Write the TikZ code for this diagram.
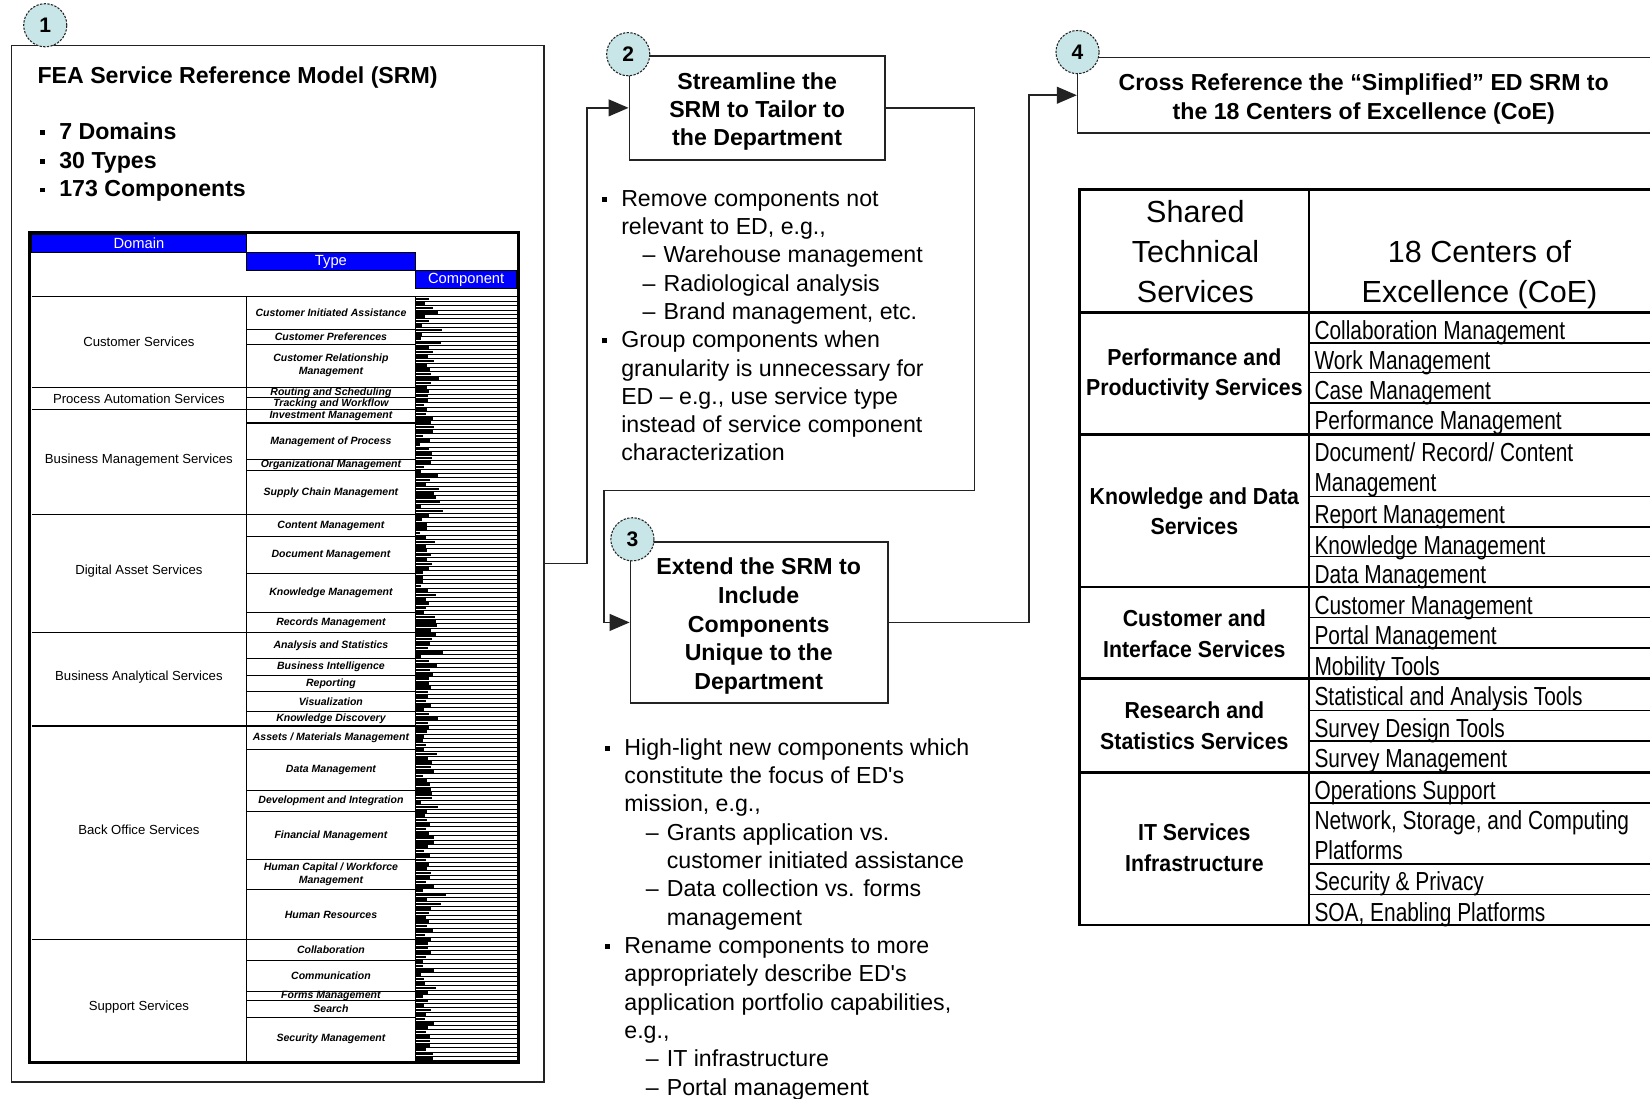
\documentclass[tikz,border=0pt]{standalone}
\usepackage{fontspec}
\setmainfont{Liberation Sans}[Ligatures=TeXOff]
\newfontfamily\cellfont{Liberation Sans}[FakeStretch=0.80,Ligatures=TeXOff]
\newfontfamily\groupfont{Liberation Sans}[FakeStretch=0.92,Ligatures=TeXOff]
\usetikzlibrary{arrows.meta}

\definecolor{numfill}{RGB}{200,230,231}
\definecolor{framegray}{RGB}{35,35,35}
\definecolor{barblue}{RGB}{0,0,255}

\newcommand\fsz[2]{\fontsize{#1}{#2}\selectfont}
\newcommand\sqb{\rule[4.2pt]{4.6pt}{4.6pt}}
\newcommand\bitem[1]{\hbox{\sqb\hskip 13.6pt #1}}
\newcommand\bcont[1]{\hbox{\hskip 18.2pt #1}}
\newcommand\ditem[1]{\hbox{\hskip 38.5pt\hbox to 20pt{–\hss}#1}}
\newcommand\dcont[1]{\hbox{\hskip 58.5pt #1}}
\newcommand\clines[1]{\vtop{\lineskiplimit=-100pt\halign{\hfil##\hfil\cr#1\crcr}}}
\newcommand\llines[1]{\vtop{\lineskiplimit=-100pt\halign{##\hfil\cr#1\crcr}}}

\begin{document}
\begin{tikzpicture}[x=1pt,y=-1pt,
  stepbox/.style={draw=framegray, line width=1.4pt, fill=white, inner sep=0pt},
  stepnum/.style={circle, draw=framegray, line width=1pt, dash pattern=on 2.2pt off 1.3pt,
    fill=numfill, minimum size=41pt, inner sep=0pt, font=\bfseries\fsz{20}{20}},
  link/.style={draw=framegray, line width=1.5pt, -{Triangle[length=19pt,width=16pt]}},
  headtitle/.style={inner sep=0pt, font=\bfseries\fsz{22}{27.2}},
  bodytext/.style={anchor=base west, inner sep=0pt},
  hdrlabel/.style={inner sep=0pt, text=white, font=\fsz{14}{14}},
  domlabel/.style={inner sep=0pt, font=\fsz{12.5}{14}},
  typelabel/.style={inner sep=0pt, font=\bfseries\itshape\fsz{10}{12.5}},
  celltext/.style={anchor=base west, inner sep=0pt, font=\cellfont\fsz{24.8}{28.6}},
  grouptext/.style={anchor=base, inner sep=0pt, font=\groupfont\bfseries\fsz{22}{29.3}},
  colhead/.style={anchor=base, inner sep=0pt, font=\fsz{29}{38}},
]
\useasboundingbox (0,0) rectangle (1568,1044);
\clip (0,0) rectangle (1568,1044);
\fill[white] (0,0) rectangle (1568,1044);

% ---------- step boxes ----------
\node[stepbox, minimum width=506pt, minimum height=985pt] (b1) at (264,535.5) {};
\node[stepbox, minimum width=243pt, minimum height=99pt] (b2) at (719.5,102.5) {};
\node[stepbox, minimum width=245pt, minimum height=153pt] (b3) at (721.5,591.5) {};
\node[stepbox, minimum width=676pt, minimum height=72pt] (b4) at (1362,90.5) {};

% ---------- step 1: the FEA SRM ----------
\node[headtitle, anchor=base west] (t1) at (35.5,79.2) {FEA Service Reference Model (SRM)};
\node[headtitle, anchor=base west, font=\bfseries\fsz{22}{27.3}] (l1) at (38,132.4)
  {\vtop{\bitem{7 Domains}\bitem{30 Types}\bitem{173 Components}}};

% SRM table header
\draw[fill=barblue, line width=0.8pt] (30,222.5) rectangle (234,240);
\draw[fill=barblue, line width=0.8pt] (234,240) rectangle (395,257);
\draw[fill=barblue, line width=0.8pt] (395,257) rectangle (491,274);
\node[hdrlabel] (hd) at (132,231.5) {Domain};
\node[hdrlabel] (ht) at (314.5,248.5) {Type};
\node[hdrlabel] (hc) at (443,265.5) {Component};
\draw[line width=1.3pt] (30,282) -- (491,282);

% component column: one line per service component
\pgfmathsetseed{4711}
\foreach \i in {0,...,172}{
  \pgfmathsetmacro\yy{282+\i*4.1965}
  \pgfmathsetmacro\ll{4+20*rnd*rnd+7*rnd}
  \fill (395,\yy+0.9) rectangle ++(\ll,2.5);
  \draw[line width=0.7pt] (395,\yy+4.1965) -- (491,\yy+4.1965);
}

% column dividers
\draw[line width=1.3pt] (234,282) -- (234,1008);
\draw[line width=1.3pt] (395,282) -- (395,1008);

% type row separators
\foreach \y in {313,327,378,402,437,447,510,545,582,626,642,657,676,712,751,771,817,845,913,942,951,967}
  \draw[line width=1.1pt] (234,\y) -- (395,\y);
% domain row separators
\foreach \y in {368,389,489,601,690,893}
  \draw[line width=1.4pt] (30,\y) -- (395,\y);

% domain labels
\foreach \y/\t in {325/Customer Services, 379/Process Automation Services,
  437/Business Management Services, 543/Digital Asset Services,
  643/Business Analytical Services, 789/Back Office Services, 957/Support Services}
  \node[domlabel] at (132,\y) {\t};

% type labels
\foreach \a/\b/\t in {282/313/Customer Initiated Assistance, 313/327/Customer Preferences,
  327/368/{\clines{Customer Relationship\cr Management}},
  368/378/Routing and Scheduling, 378/389/Tracking and Workflow,
  389/402/Investment Management, 402/437/Management of Process,
  437/447/Organizational Management, 447/489/Supply Chain Management,
  489/510/Content Management, 510/545/Document Management,
  545/582/Knowledge Management, 582/601/Records Management,
  601/626/Analysis and Statistics, 626/642/Business Intelligence,
  642/657/Reporting, 657/676/Visualization, 676/690/Knowledge Discovery,
  690/712/{Assets / Materials Management}, 712/751/Data Management,
  751/771/Development and Integration, 771/817/Financial Management,
  817/845/{\clines{Human Capital / Workforce\cr Management}}, 845/893/Human Resources,
  893/913/Collaboration, 913/942/Communication, 942/951/Forms Management,
  951/967/Search, 967/1008/Security Management}
  \node[typelabel] at (314.5,{(\a+\b)/2}) {\t};

% table frame
\draw[line width=3pt] (28,221) rectangle (493,1010);

% ---------- step 2 ----------
\node[headtitle, anchor=base, font=\bfseries\fsz{22}{26.5}] (t2) at (719.5,85.5)
  {\clines{Streamline the\cr SRM to Tailor to\cr the Department}};
\node[bodytext, font=\fsz{22}{26.92}] (n2) at (572,195.8) {\vtop{%
  \bitem{Remove components not}
  \bcont{relevant to ED, e.g.,}
  \ditem{Warehouse management}
  \ditem{Radiological analysis}
  \ditem{Brand management, etc.}
  \bitem{Group components when}
  \bcont{granularity is unnecessary for}
  \bcont{ED – e.g., use service type}
  \bcont{instead of service component}
  \bcont{characterization}}};

% ---------- step 3 ----------
\node[headtitle, anchor=base] (t3) at (721,546.2)
  {\clines{Extend the SRM to\cr Include\cr Components\cr Unique to the\cr Department}};
\node[bodytext, font=\fsz{22}{26.95}] (n3) at (575,717.5) {\vtop{%
  \bitem{High-light new components which}
  \bcont{constitute the focus of ED's}
  \bcont{mission, e.g.,}
  \ditem{Grants application vs.}
  \dcont{customer initiated assistance}
  \ditem{Data collection vs. forms}
  \dcont{management}
  \bitem{Rename components to more}
  \bcont{appropriately describe ED's}
  \bcont{application portfolio capabilities,}
  \bcont{e.g.,}
  \ditem{IT infrastructure}
  \ditem{Portal management}}};

% ---------- step 4 ----------
\node[headtitle, anchor=base] (t4) at (1296,86.2)
  {\clines{Cross Reference the “Simplified” ED SRM to\cr the 18 Centers of Excellence (CoE)}};

% cross-reference table
\foreach \y in {326,354,383,472,501,529,587,616,675,704,763,821,850}
  \draw[line width=1.5pt] (1244,\y) -- (1620,\y);
\foreach \y in {413,558,645,734}
  \draw[line width=2.4pt] (1026,\y) -- (1620,\y);
\draw[line width=2.8pt] (1026,297) -- (1620,297);
\draw[line width=2pt] (1244,180) -- (1244,879);
\draw[line width=2.6pt] (1026,180) rectangle (1620,879);

\node[colhead] (ch1) at (1136,211.6) {\clines{Shared\cr Technical\cr Services}};
\node[colhead] (ch2) at (1406,249.6) {\clines{18 Centers of\cr Excellence (CoE)}};

\node[grouptext] (g1) at (1135,347) {\clines{Performance and\cr Productivity Services}};
\node[grouptext] (g2) at (1135,479) {\clines{Knowledge and Data\cr Services}};
\node[grouptext] (g3) at (1135,595.5) {\clines{Customer and\cr Interface Services}};
\node[grouptext] (g4) at (1135,682.6) {\clines{Research and\cr Statistics Services}};
\node[grouptext] (g5) at (1135,799) {\clines{IT Services\cr Infrastructure}};

\foreach \y/\t in {297/Collaboration Management, 326/Work Management, 354/Case Management,
  383/Performance Management, 413/{\llines{Document/ Record/ Content\cr Management}},
  472/Report Management, 501/Knowledge Management, 529/Data Management,
  558/Customer Management, 587/Portal Management, 616/Mobility Tools,
  645/Statistical and Analysis Tools, 675/Survey Design Tools, 704/Survey Management,
  734/Operations Support, 763/{\llines{Network, Storage, and Computing\cr Platforms}},
  821/Security \& Privacy, 850/{SOA, Enabling Platforms}}
  \node[celltext] at (1249,\y+25.6) {\t};

% ---------- connectors ----------
\coordinate (turnA) at (926,466);
\coordinate (turnB) at (574,466);
\draw[link] (b1.east) -- ++(40,0) |- (b2.west);
\draw[link] (b2.east) -| (turnA) -- (turnB) |- (b3.west);
\draw[link] (b3.east) -- ++(133,0) |- (b4.west);

% ---------- step numbers ----------
\node[stepnum] (s1) at (43,24) {1};
\node[stepnum] (s2) at (597,51.5) {2};
\node[stepnum] (s3) at (601,512.5) {3};
\node[stepnum] (s4) at (1024,49.5) {4};
\end{tikzpicture}
\end{document}
